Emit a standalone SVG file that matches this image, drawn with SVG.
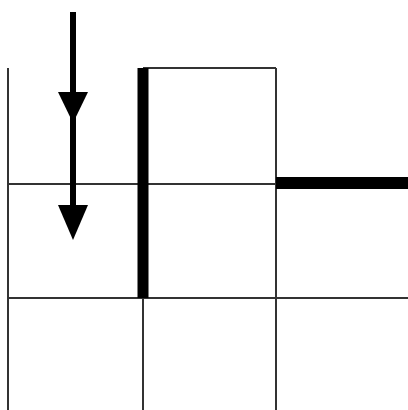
<svg xmlns="http://www.w3.org/2000/svg" width="408" height="410" viewBox="0 0 408 410">
<style>
.thin{stroke:#333;stroke-width:2;fill:none}
.thick{stroke:#000;fill:none}
.arr{stroke:#000;stroke-width:6;fill:none}
</style>
<defs>
<marker id="ah" markerUnits="userSpaceOnUse" markerWidth="32" markerHeight="32" viewBox="0 0 32 32" refX="16" refY="31" orient="auto-start-reverse">
<path d="M1,0 L31,0 L16,31 Z" fill="#000" transform="rotate(0)"/>
</marker>
</defs>
<rect width="408" height="410" fill="#fff"/>
<g id="grid">
<line class="thin" x1="8" y1="68" x2="8" y2="410"/>
<line class="thin" x1="8" y1="184" x2="408" y2="184"/>
<line class="thin" x1="8" y1="298" x2="408" y2="298"/>
<line class="thin" x1="143" y1="298" x2="143" y2="410"/>
<line class="thin" x1="276" y1="68" x2="276" y2="410"/>
<line class="thin" x1="143" y1="68" x2="276" y2="68"/>
</g>
<g id="thick-bars">
<line class="thick" stroke-width="11" x1="143" y1="68" x2="143" y2="298"/>
<line class="thick" stroke-width="12" x1="276" y1="183" x2="408" y2="183"/>
</g>
<g id="connectors">
<line class="arr" x1="73" y1="12" x2="73" y2="205"/>
<path d="M58,92 L88,92 L73,123 Z" fill="#000"/>
<path d="M58,205 L88,205 L73,240 Z" fill="#000"/>
</g>
</svg>
